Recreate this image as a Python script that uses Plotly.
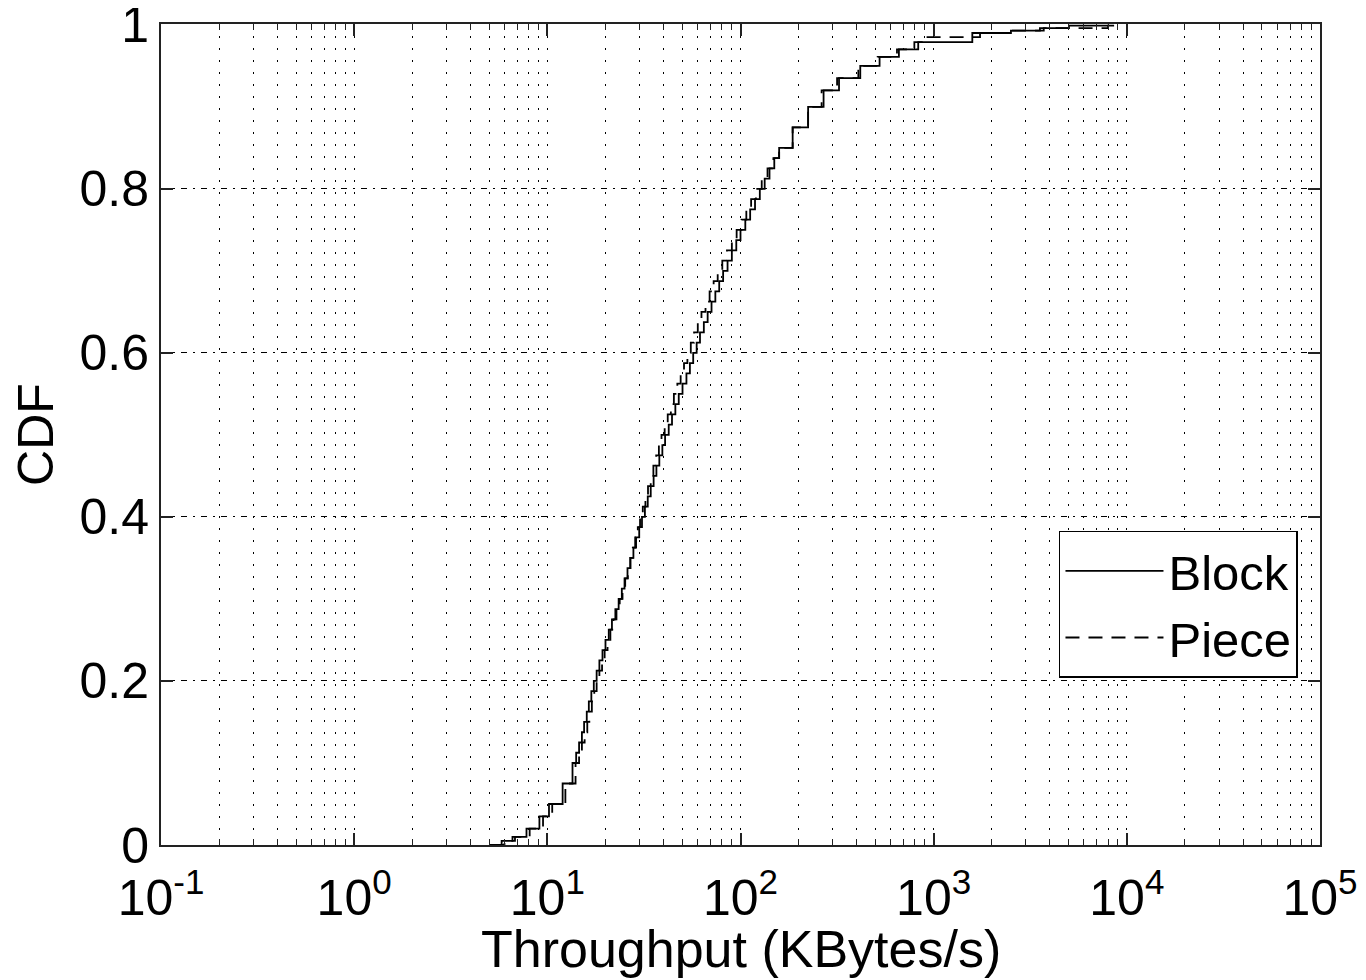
import plotly.graph_objects as go

# CDF levels and throughput values (KBytes/s)
block_cdf = [0.000, 0.005, 0.010, 0.020, 0.035, 0.050, 0.075,
             0.1000, 0.1125, 0.1250, 0.1375, 0.1500, 0.1625, 0.1750, 0.1875,
             0.2000, 0.2125, 0.2250, 0.2375, 0.2500, 0.2625, 0.2750, 0.2875,
             0.3000, 0.3125, 0.3250, 0.3375, 0.3500, 0.3625, 0.3750, 0.3875,
             0.4000, 0.4125, 0.4250, 0.4375, 0.4500, 0.4625, 0.4750, 0.4875,
             0.5000, 0.5125, 0.5250, 0.5375, 0.5500, 0.5625, 0.5750, 0.5875,
             0.6000, 0.6125, 0.6250, 0.6375, 0.6500, 0.6625, 0.6750, 0.6875,
             0.7000, 0.7125, 0.7250, 0.7375, 0.7500, 0.7625, 0.7750, 0.7875,
             0.8000, 0.8125, 0.8250, 0.8375, 0.8500,
             0.875, 0.900, 0.920, 0.935, 0.950, 0.961, 0.970, 0.979,
             0.990, 0.993, 0.996, 0.999, 1.000]
block_x = [5.0, 5.8, 6.6, 7.8, 9.1, 10.2, 12.0,
           13.5, 14.1, 14.6, 15.1, 15.5, 16.0, 16.4, 16.9,
           17.4, 18.0, 18.6, 19.3, 20.0, 20.8, 21.6, 22.5,
           23.4, 24.3, 25.1, 26.0, 26.9, 27.9, 28.8, 29.9,
           30.9, 32.0, 33.1, 34.3, 35.5, 36.7, 38.0, 39.4,
           40.7, 42.5, 44.2, 46.0, 47.9, 50.1, 52.5, 54.7,
           56.9, 59.3, 61.7, 64.6, 67.6, 70.8, 74.1, 77.6,
           81.3, 85.7, 90.2, 95.1, 100.0, 105.9, 112.2, 118.9,
           125.9, 133.4, 141.3, 149.6, 158.5,
           186.2, 223.9, 269.2, 323.6, 416.9, 524.8, 660.7, 831.8,
           1585.0, 2512.0, 3548.0, 5012.0, 8500.0]

piece_cdf = [0.000, 0.005, 0.010, 0.020, 0.035, 0.050, 0.075,
             0.1000, 0.1125, 0.1250, 0.1375, 0.1500, 0.1625, 0.1750, 0.1875,
             0.2000, 0.2125, 0.2250, 0.2375, 0.2500, 0.2625, 0.2750, 0.2875,
             0.3000, 0.3125, 0.3250, 0.3375, 0.3500, 0.3625, 0.3750, 0.3875,
             0.4000, 0.4125, 0.4250, 0.4375, 0.4500, 0.4625, 0.4750, 0.4875,
             0.5000, 0.5125, 0.5250, 0.5375, 0.5500, 0.5625, 0.5750, 0.5875,
             0.6000, 0.6125, 0.6250, 0.6375, 0.6500, 0.6625, 0.6750, 0.6875,
             0.7000, 0.7125, 0.7250, 0.7375, 0.7500, 0.7625, 0.7750, 0.7875,
             0.8000, 0.8125, 0.8250, 0.8375, 0.8500,
             0.875, 0.900, 0.920, 0.935, 0.950, 0.961, 0.970, 0.979,
             0.985, 0.990, 0.993, 0.996, 1.000]
piece_x = [5.2, 6.0, 6.8, 8.1, 9.5, 10.6, 12.4,
           14.0, 14.6, 15.1, 15.6, 16.1, 16.5, 17.0, 17.5,
           18.0, 18.6, 19.2, 19.8, 20.5, 21.2, 22.0, 22.8,
           23.7, 24.5, 25.3, 26.1, 26.9, 27.7, 28.5, 29.4,
           30.2, 31.2, 32.2, 33.2, 34.3, 35.4, 36.6, 37.8,
           39.0, 40.5, 42.0, 43.6, 45.2, 47.1, 49.0, 51.0,
           53.1, 55.3, 57.5, 60.1, 62.8, 65.9, 69.2, 72.6,
           76.2, 80.5, 85.1, 90.2, 95.5, 101.2, 107.2, 113.5,
           120.2, 128.8, 138.0, 148.0, 158.5,
           186.2, 223.9, 263.0, 316.2, 407.4, 512.9, 645.7, 794.3,
           871.0, 1738.0, 2512.0, 3715.0, 8000.0]

x_tickvals = [0.1, 1, 10, 100, 1000, 10000, 100000]
x_ticktext = ["10<sup>-1</sup>", "10<sup>0</sup>", "10<sup>1</sup>", "10<sup>2</sup>",
              "10<sup>3</sup>", "10<sup>4</sup>", "10<sup>5</sup>"]
y_tickvals = [0, 0.2, 0.4, 0.6, 0.8, 1]
y_ticktext = ["0", "0.2", "0.4", "0.6", "0.8", "1"]
x_title = "Throughput (KBytes/s)"
y_title = "CDF"

minor_vals = [m * 10 ** e for e in range(-1, 5) for m in range(2, 10)]

FONT = "Liberation Sans, Arial, sans-serif"

fig = go.Figure()
fig.add_trace(go.Scatter(x=block_x, y=block_cdf, mode="lines", name="Block",
                         line=dict(color="black", width=1.8, shape="hv")))
fig.add_trace(go.Scatter(x=piece_x, y=piece_cdf, mode="lines", name="Piece",
                         line=dict(color="black", width=1.8, shape="hv", dash="14px,9px")))

fig.add_annotation(text=x_title, xref="paper", yref="paper", x=0.5, y=-0.127,
                   xanchor="center", yanchor="middle", showarrow=False,
                   font=dict(size=52, family=FONT, color="black"))

fig.update_layout(
    width=1366, height=980,
    margin=dict(l=153, r=54, t=16, b=143),
    paper_bgcolor="white", plot_bgcolor="white",
    font=dict(family=FONT, size=50, color="black"),
    showlegend=True,
    legend=dict(x=0.981, y=0.3825, xanchor="right", yanchor="top",
                bordercolor="black", borderwidth=1.5, bgcolor="white",
                font=dict(size=49, family=FONT), tracegroupgap=0,
                itemwidth=98),
    xaxis=dict(type="log", range=[-1, 5], automargin=False,
               tickmode="array", tickvals=x_tickvals, ticktext=x_ticktext,
               ticks="inside", ticklen=12, tickcolor="#222", tickwidth=1.5,
               showline=True, linecolor="#222", linewidth=2, mirror="ticks",
               showgrid=True, gridcolor="black", griddash="2px,10px", gridwidth=1,
               zeroline=False, ticklabeloverflow="allow", ticklabelstandoff=8,
               tickfont=dict(size=50, family=FONT),
               minor=dict(tickmode="array", tickvals=minor_vals, ticks="inside", ticklen=6,
                          tickcolor="#222", tickwidth=1, showgrid=True,
                          gridcolor="black", griddash="2px,10px", gridwidth=1)),
    yaxis=dict(range=[0, 1.001], automargin=False,
               tickmode="array", tickvals=y_tickvals, ticktext=y_ticktext,
               ticks="inside", ticklen=12, tickcolor="#222", tickwidth=1.5,
               showline=True, linecolor="#222", linewidth=2, mirror="ticks",
               showgrid=True, gridcolor="black", griddash="6px,6px,2px,6px", gridwidth=1,
               zeroline=False, ticklabeloverflow="allow",
               tickfont=dict(size=50, family=FONT),
               title=dict(text=y_title, font=dict(size=50, family=FONT), standoff=12)),
)

fig.write_html("out.html")
